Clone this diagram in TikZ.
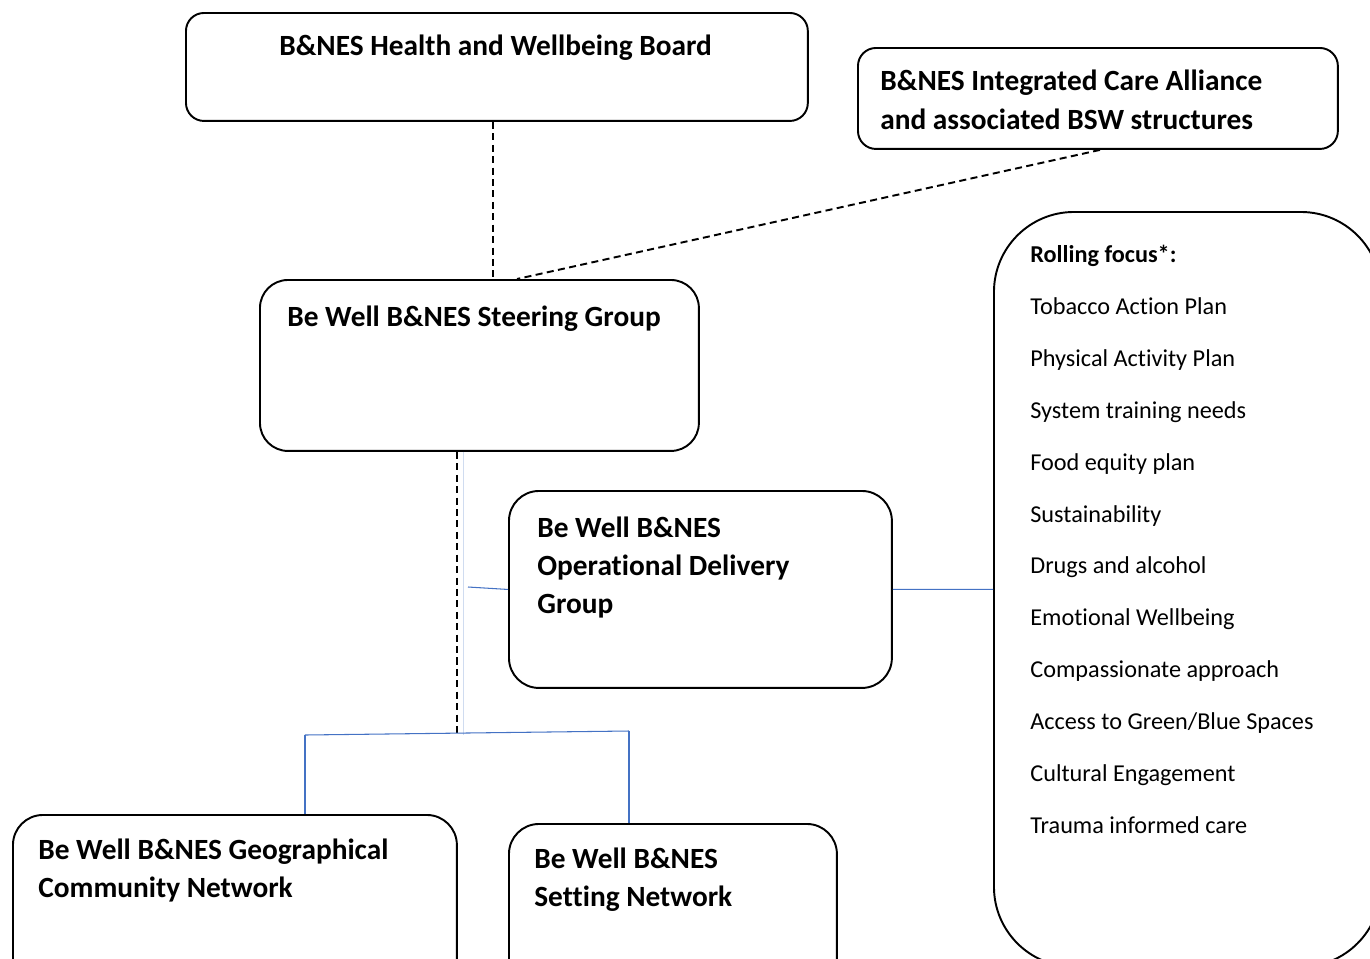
\documentclass[tikz,border=0pt]{standalone}
\usepackage{fontspec}
\setmainfont{Carlito}[Ligatures=NoCommon]
\usetikzlibrary{positioning}
\usepackage{xcolor}
\definecolor{linkblue}{HTML}{4472C4}

\begin{document}
\begin{tikzpicture}[x=0.02cm, y=-0.02cm,
    box/.style={draw, line width=1.1pt, anchor=north west, inner sep=0pt},
    title/.style={anchor=base west, inner sep=0pt, align=left,
        font=\fontsize{16.7}{21.6}\selectfont\bfseries},
    dashlink/.style={draw, line width=1.1pt, dash pattern=on 4pt off 2.5pt},
    bluelink/.style={draw=linkblue, line width=0.6pt}]
        \useasboundingbox (0,0) rectangle (1370,958);
        % Caixas
        \node[box, rounded corners=0.36cm, minimum width=12.44cm, minimum height=2.16cm] (hwb) at (185,12) {};
        \node[box, rounded corners=0.36cm, minimum width=9.6cm, minimum height=2.02cm] (ica) at (857,47) {};
        \node[box, rounded corners=0.56cm, minimum width=8.78cm, minimum height=3.42cm] (steer) at (259,279) {};
        \node[box, rounded corners=0.6cm, minimum width=7.66cm, minimum height=3.94cm] (odg) at (508,490) {};
        \node[box, rounded corners=0.6cm, minimum width=8.88cm, minimum height=3.72cm] (geo) at (12,814) {};
        \node[box, rounded corners=0.6cm, minimum width=6.56cm, minimum height=3.54cm] (setting) at (508,823) {};
        \node[box, rounded corners=1.6cm, minimum width=7.74cm, minimum height=15.1cm] (focus) at (993,211) {};
        % Textos (ancorados na linha de base da última linha)
        \node[title] (hwbtext) at (279,55) {B\&NES Health and Wellbeing Board};
        \node[title] (icatext) at (880,129) {B\&NES Integrated Care Alliance\\[0.6pt]and associated BSW structures};
        \node[title] (steertext) at (287,326) {Be Well B\&NES Steering Group};
        \node[title] (odgtext) at (537,613) {Be Well B\&NES\\Operational Delivery\\Group};
        \node[title] (geotext) at (38,897) {Be Well B\&NES Geographical\\Community Network};
        \node[title] (settingtext) at (534,906) {Be Well B\&NES\\Setting Network};
        \node[anchor=base west, inner sep=0pt, align=left, font=\fontsize{13.8}{29.5}\selectfont]
            (focustext) at (1030,833) {\textbf{Rolling focus*:}\\Tobacco Action Plan\\Physical Activity Plan\\
            System training needs\\Food equity plan\\Sustainability\\Drugs and alcohol\\Emotional Wellbeing\\
            Compassionate approach\\Access to Green/Blue Spaces\\Cultural Engagement\\Trauma informed care};
        % Pontos de ligação
        \coordinate (steerjoin) at (517,279);
        \coordinate (split) at (457,735);
        \coordinate (splitb) at (463,735);
        \coordinate (odgjoin) at (468,587);
        \coordinate (geotop) at (305,735);
        \coordinate (settingtop) at (629,731);
        % Ligações tracejadas
        \draw[dashlink] (hwb.south -| 493,0) -- (steer.north -| 493,0);
        \draw[dashlink] (ica.south -| 1100,0) -- (steerjoin);
        \draw[linkblue!25, line width=0.5pt] (splitb |- steer.south) -- (splitb);
        \draw[dashlink] (split |- steer.south) -- (split);
        % Ligações azuis
        \draw[bluelink] (odgjoin) -- (odg.west);
        \draw[bluelink] (odg.east) -- (focus.west);
        \draw[bluelink] (geotop) -- (settingtop);
        \draw[bluelink] (geotop) -- (geotop |- geo.north);
        \draw[bluelink] (settingtop) -- (settingtop |- setting.north);
    \end{tikzpicture}
\end{document}
